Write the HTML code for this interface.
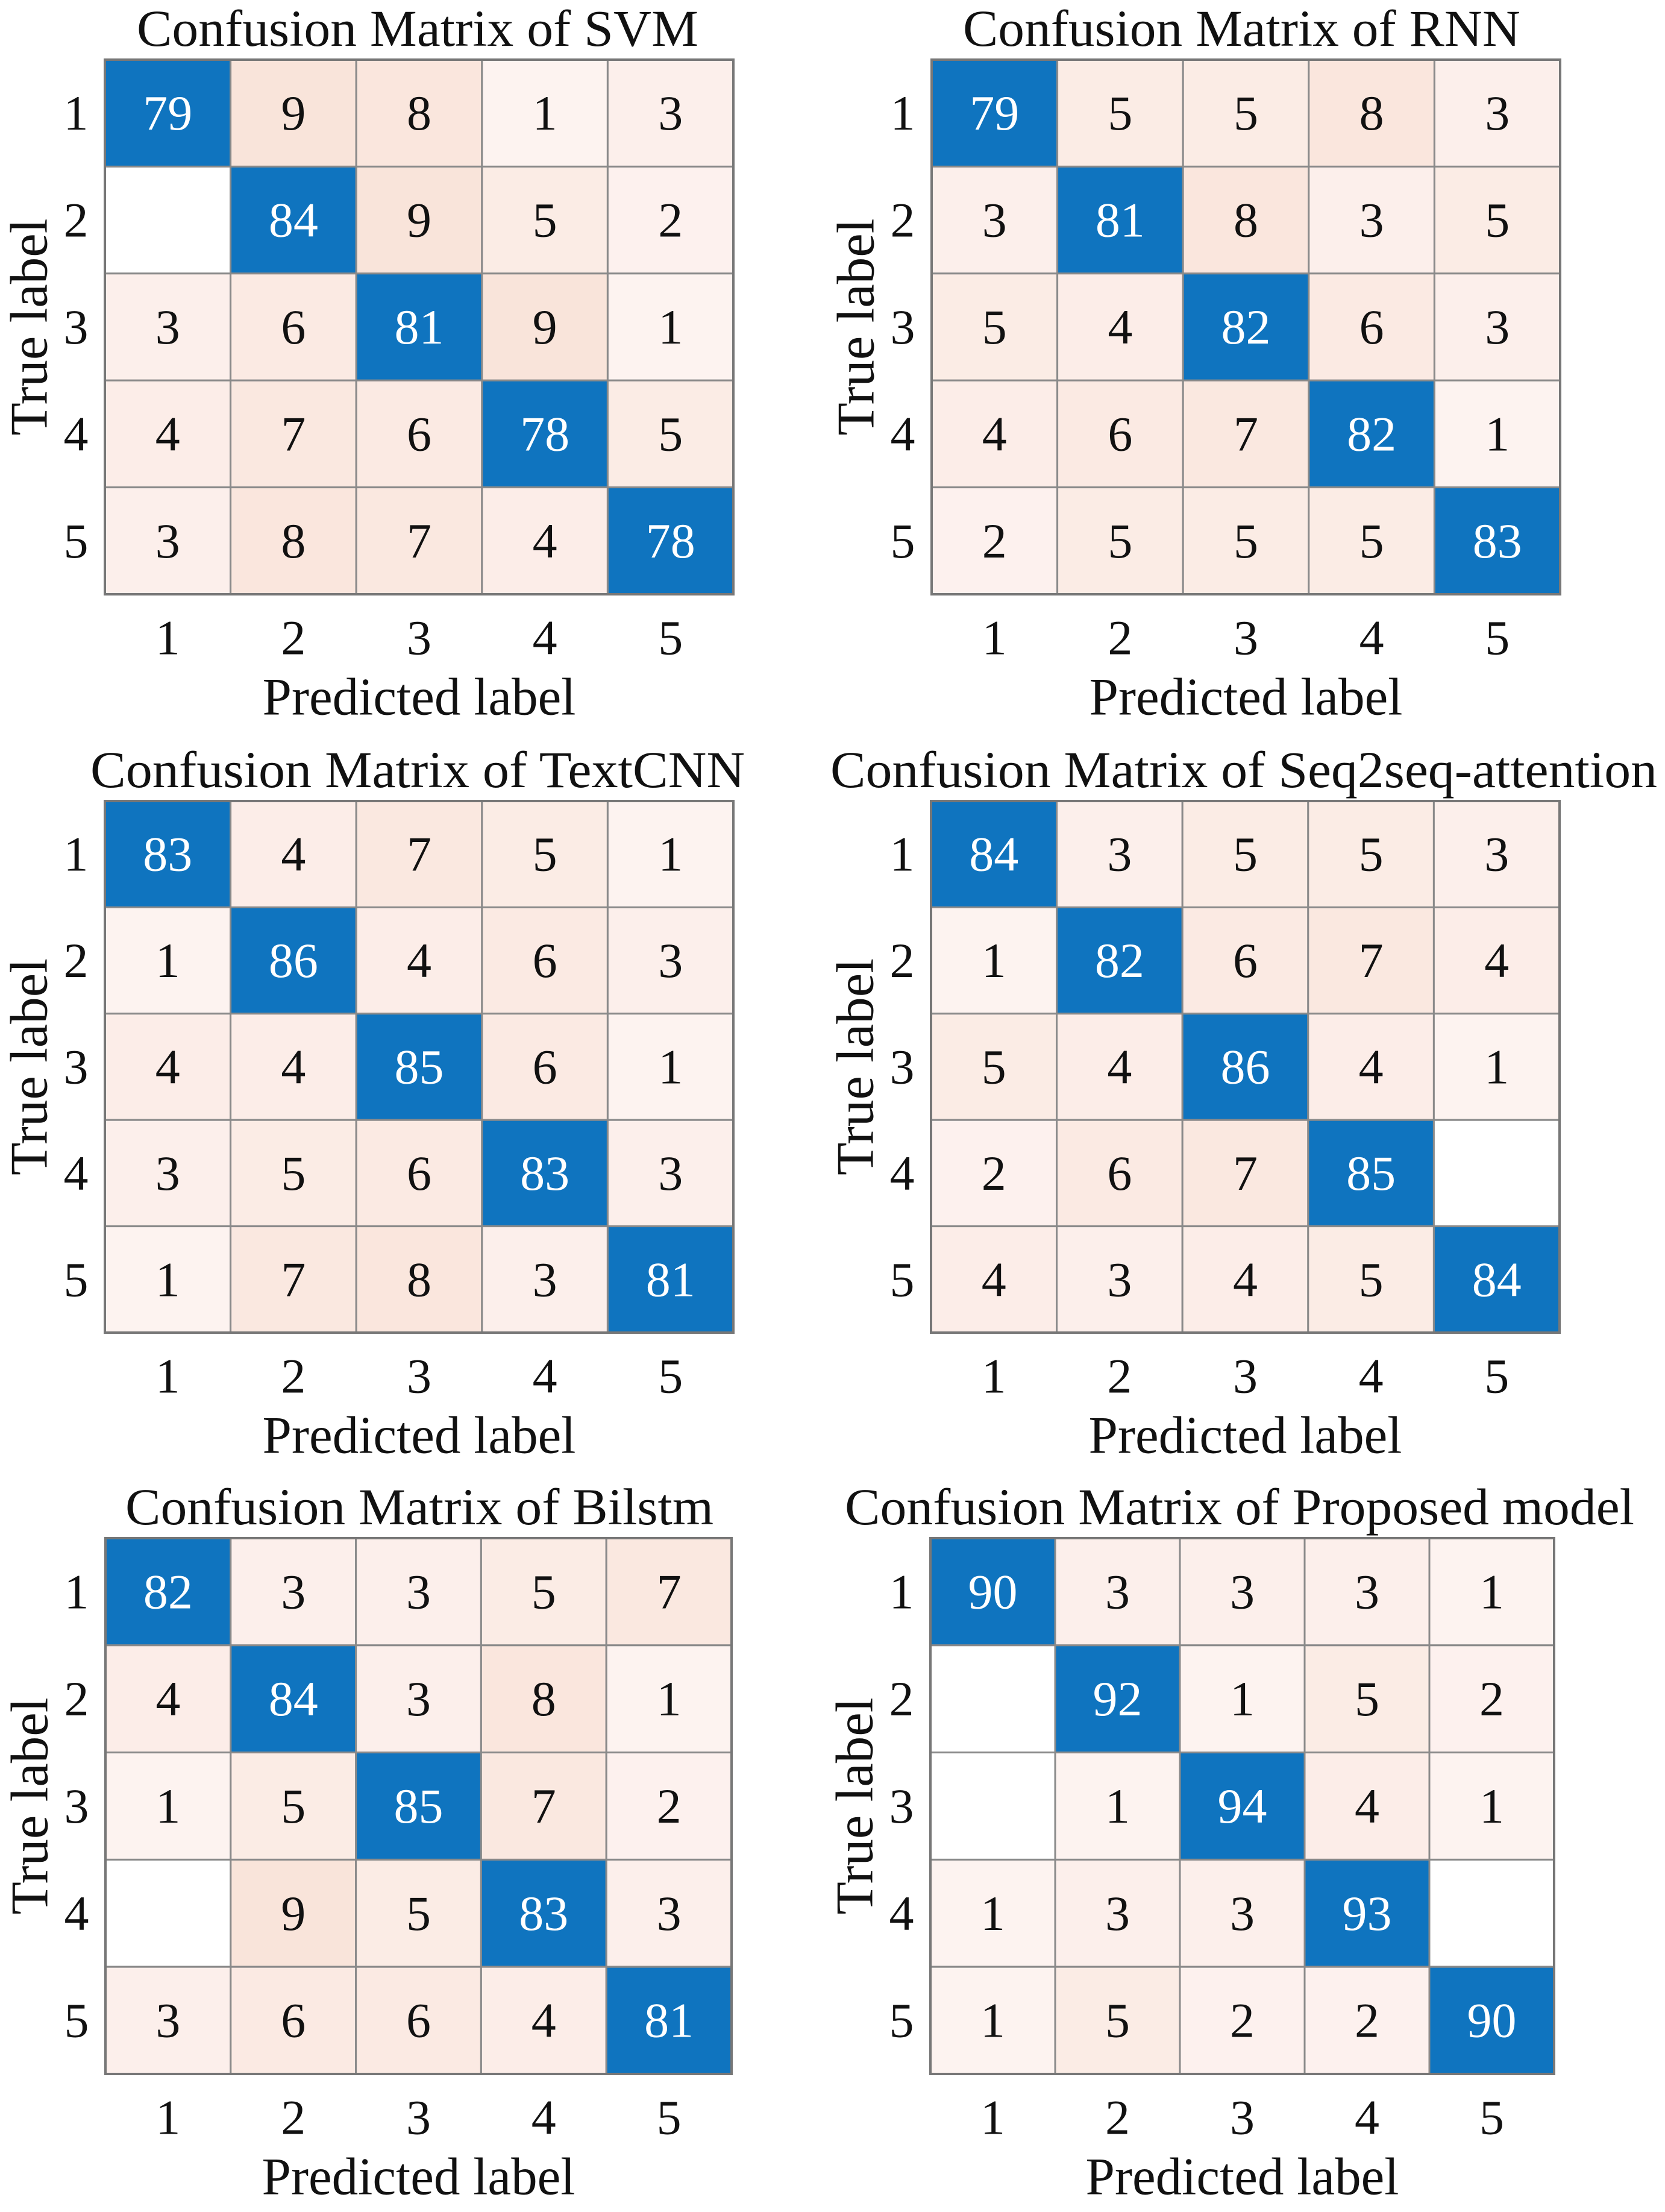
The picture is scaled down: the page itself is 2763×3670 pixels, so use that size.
<!DOCTYPE html>
<html><head><meta charset="utf-8"><style>
html,body{margin:0;padding:0;background:#fff;}
svg{display:block;}
svg text{font-family:"Liberation Serif","Times New Roman",Times,serif;fill:#111;}
</style></head><body>
<svg id="fig" width="2763" height="3670" viewBox="0 0 2763 3670" xmlns="http://www.w3.org/2000/svg" font-family="Liberation Serif, serif"></svg>
<script>
const tickLabels = ['1','2','3','4','5'];
const titles = ['Confusion Matrix of SVM','Confusion Matrix of RNN','Confusion Matrix of TextCNN','Confusion Matrix of Seq2seq-attention','Confusion Matrix of Bilstm','Confusion Matrix of Proposed model'];
const svmValues = [[79,9,8,1,3],[0,84,9,5,2],[3,6,81,9,1],[4,7,6,78,5],[3,8,7,4,78]];
const rnnValues = [[79,5,5,8,3],[3,81,8,3,5],[5,4,82,6,3],[4,6,7,82,1],[2,5,5,5,83]];
const textcnnValues = [[83,4,7,5,1],[1,86,4,6,3],[4,4,85,6,1],[3,5,6,83,3],[1,7,8,3,81]];
const seq2seqValues = [[84,3,5,5,3],[1,82,6,7,4],[5,4,86,4,1],[2,6,7,85,0],[4,3,4,5,84]];
const bilstmValues = [[82,3,3,5,7],[4,84,3,8,1],[1,5,85,7,2],[0,9,5,83,3],[3,6,6,4,81]];
const proposedValues = [[90,3,3,3,1],[0,92,1,5,2],[0,1,94,4,1],[1,3,3,93,0],[1,5,2,2,90]];
const matrices = [svmValues,rnnValues,textcnnValues,seq2seqValues,bilstmValues,proposedValues];

// layout (pixels)
const layout = [
  {x0:174,x1:1217,y0:99,y1:986,tx0:227,tx1:1159},
  {x0:1546,x1:2589,y0:99,y1:986,tx0:1598,tx1:2523},
  {x0:174,x1:1217,y0:1329,y1:2211,tx0:150,tx1:1236},
  {x0:1545,x1:2588,y0:1329,y1:2211,tx0:1378,tx1:2750},
  {x0:175,x1:1214,y0:2552,y1:3441,tx0:208,tx1:1184},
  {x0:1544,x1:2579,y0:2552,y1:3441,tx0:1402,tx1:2712}
];
const NS='http://www.w3.org/2000/svg';
const svg=document.getElementById('fig');
function mk(tag,attrs,parent){const e=document.createElementNS(NS,tag);for(const k in attrs)e.setAttribute(k,attrs[k]);if(tag==='text')e.setAttribute('font-family','Liberation Serif, serif');parent.appendChild(e);return e;}
function offColor(v){
  if(v<=0) return '#ffffff';
  const r=Math.round(253.5-0.5*v),g=Math.round(245-1.9*v),b=Math.round(243-2.75*v);
  return 'rgb('+r+','+g+','+b+')';
}
matrices.forEach((m,pi)=>{
  const L=layout[pi];
  const g=mk('g',{},svg);
  
  
  const n=tickLabels.length;
  const cw=(L.x1-L.x0)/n, ch=(L.y1-L.y0)/n;
  const xScale=i=>L.x0+i*cw, yScale=i=>L.y0+i*ch;
  const t=mk('text',{x:(L.tx0+L.tx1)/2,y:L.y0-52,'text-anchor':'middle','dominant-baseline':'central','font-size':86,textLength:L.tx1-L.tx0,lengthAdjust:'spacingAndGlyphs'},g);
  t.textContent=titles[pi];
  
  
  for(let r=0;r<n;r++){for(let c=0;c<n;c++){
    const v=m[r][c];
    const rect=mk('rect',{x:xScale(c),y:yScale(r),width:cw,height:ch,fill:r===c?'#0f74bf':offColor(v),stroke:'#8a8a8a','stroke-width':3},g);
    
    
    if(v>0){
      const tx=mk('text',{x:xScale(c)+cw/2,y:yScale(r)+ch/2,'text-anchor':'middle','dominant-baseline':'central','font-size':82},g);
      if(r===c) tx.setAttribute('style','fill:#fff');
      tx.textContent=String(v);
      
      
    }
  }}
  mk('rect',{x:L.x0,y:L.y0,width:L.x1-L.x0,height:L.y1-L.y0,fill:'none',stroke:'#777','stroke-width':4},g);
  for(let i=0;i<n;i++){
    const yt=mk('text',{x:L.x0-48,y:yScale(i)+ch/2,'text-anchor':'middle','dominant-baseline':'central','font-size':82},g);
    yt.textContent=tickLabels[i];
    
    
    const xt=mk('text',{x:xScale(i)+cw/2,y:L.y1+72,'text-anchor':'middle','dominant-baseline':'central','font-size':82},g);
    xt.textContent=tickLabels[i];
    
    
  }
  const cx=(L.x0+L.x1)/2;
  const xl=mk('text',{x:cx,y:L.y1+171,'text-anchor':'middle','dominant-baseline':'central','font-size':88,textLength:520,lengthAdjust:'spacingAndGlyphs'},g);
  xl.textContent='Predicted label';
  
  
  const cy=(L.y0+L.y1)/2, lx=L.x0-125;
  const yl=mk('text',{x:lx,y:cy,'text-anchor':'middle','dominant-baseline':'central','font-size':88,transform:'rotate(-90 '+lx+' '+cy+')',textLength:360,lengthAdjust:'spacingAndGlyphs'},g);
  yl.textContent='True label';
  
  
});
</script>
</body></html>
